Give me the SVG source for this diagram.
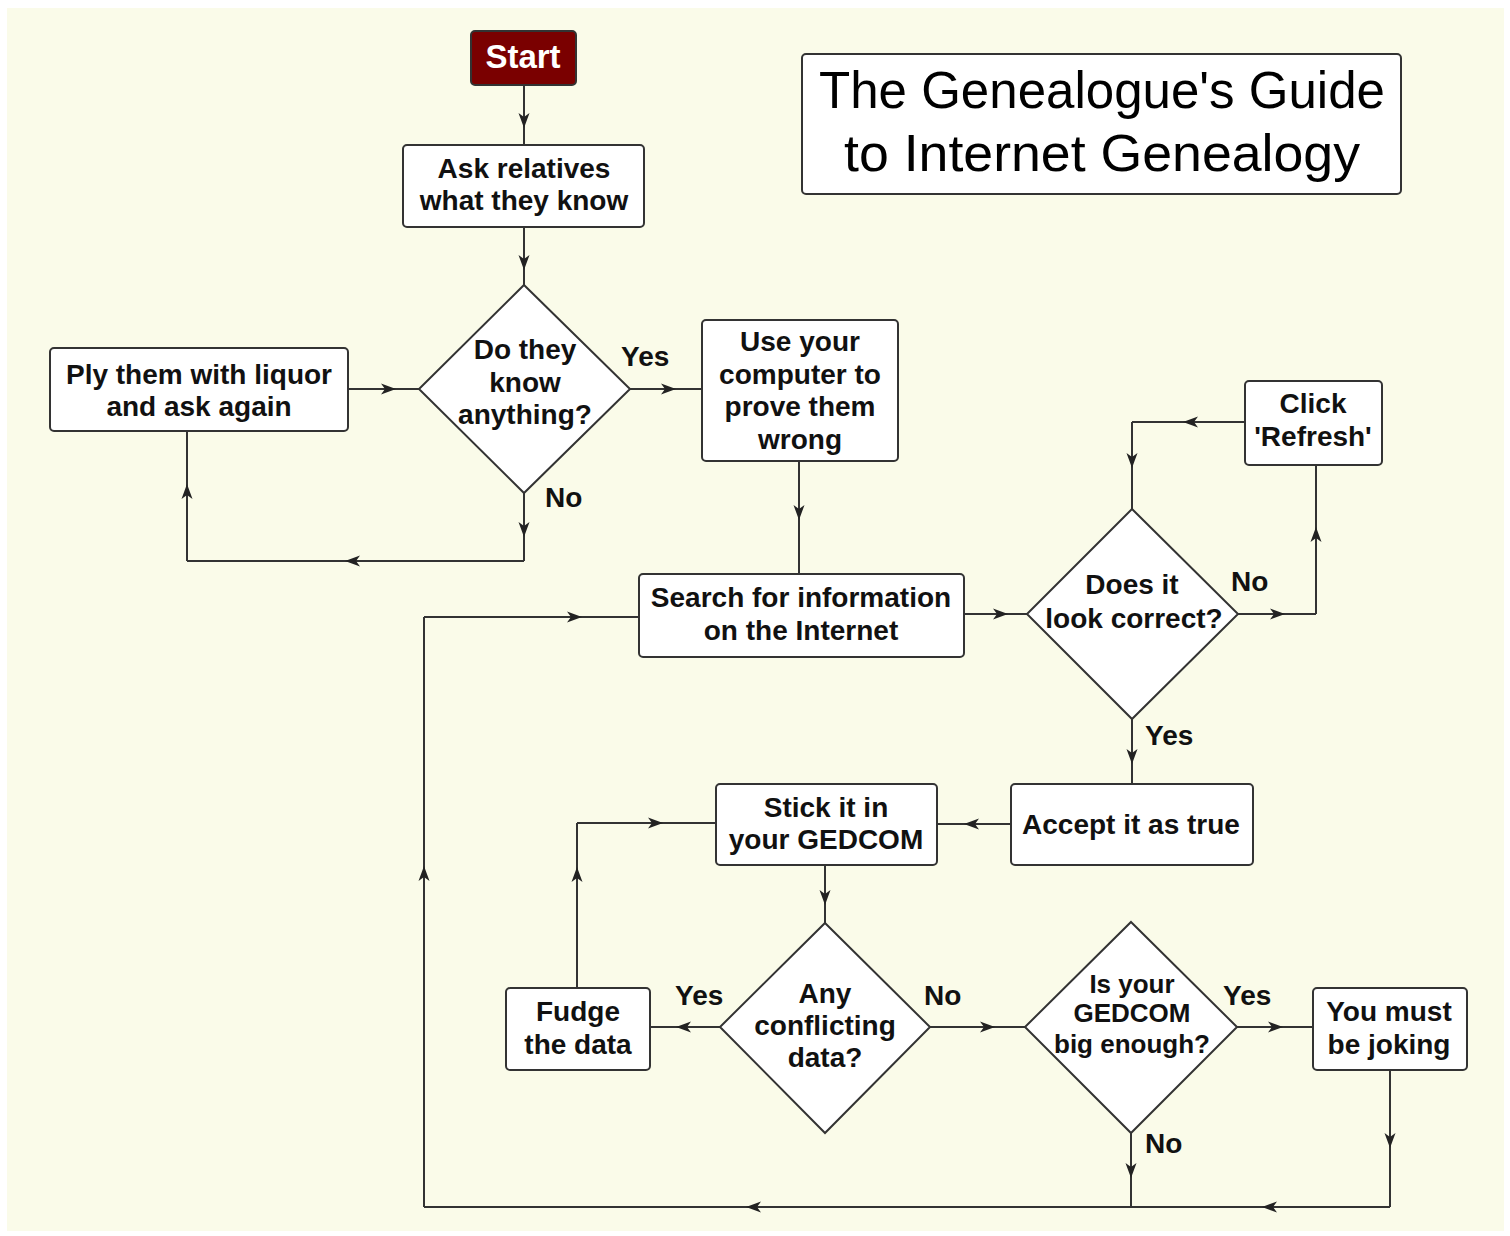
<svg xmlns="http://www.w3.org/2000/svg" width="1510" height="1236" viewBox="0 0 1510 1236">
<defs>
<style>
.node rect, .node polygon { fill:#ffffff; stroke:#333333; stroke-width:2; }
.node text, .lbl { font-family:"Liberation Sans", Arial, sans-serif; font-weight:bold; font-size:28px; fill:#111111; text-anchor:middle; }
.lbl { text-anchor:start; }
.conn path { fill:none; stroke:#333333; stroke-width:2; }
.conn path.a { marker-mid:url(#arr); }
.node text.title { font-family:"Liberation Sans", "DejaVu Sans", sans-serif; font-weight:normal; font-size:52px; fill:#000000; text-anchor:middle; }
</style>
<marker id="arr" viewBox="-15 -6 17 12" markerWidth="17" markerHeight="12" refX="0" refY="0" orient="auto" markerUnits="userSpaceOnUse">
<path d="M-15,-5.5 L0,0 L-15,5.5 L-11,0 z" fill="#222222"/>
</marker>
</defs>
<rect x="0" y="0" width="1510" height="1236" fill="#ffffff"/>
<rect x="7" y="8" width="1497" height="1223" fill="#fafbe9"/>

<g id="connectors" class="conn">
<path class="a" d="M524,85 L524,128 L524,145"/>
<path class="a" d="M524,227 L524,270 L524,285"/>
<path class="a" d="M348,389 L396,389 L419,389"/>
<path class="a" d="M630,389 L676,389 L702,389"/>
<path class="a" d="M524,493 L524,537 L524,561"/>
<path class="a" d="M524,561 L345,561 L187,561"/>
<path class="a" d="M187,561 L187,484 L187,431"/>
<path class="a" d="M799,461 L799,520 L799,574"/>
<path class="a" d="M964,614 L1008,614 L1027,614"/>
<path class="a" d="M1238,614 L1285,614 L1316,614"/>
<path class="a" d="M1316,614 L1316,527 L1316,465"/>
<path class="a" d="M1245,422 L1183,422 L1132,422"/>
<path class="a" d="M1132,422 L1132,468 L1132,509"/>
<path class="a" d="M1132,719 L1132,764 L1132,784"/>
<path class="a" d="M1011,824 L964,824 L937,824"/>
<path class="a" d="M825,865 L825,905 L825,923"/>
<path class="a" d="M720,1027 L676,1027 L650,1027"/>
<path class="a" d="M577,988 L577,867 L577,823"/>
<path class="a" d="M577,823 L663,823 L716,823"/>
<path class="a" d="M930,1027 L995,1027 L1025,1027"/>
<path class="a" d="M1237,1027 L1283,1027 L1313,1027"/>
<path class="a" d="M1390,1070 L1390,1148 L1390,1207"/>
<path class="a" d="M1390,1207 L1262,1207 L1131,1207"/>
<path class="a" d="M1131,1133 L1131,1178 L1131,1207"/>
<path class="a" d="M1131,1207 L746,1207 L424,1207"/>
<path class="a" d="M424,1207 L424,866 L424,617"/>
<path class="a" d="M424,617 L582,617 L639,617"/>
</g>

<g id="labels">
<text class="lbl" x="621" y="366">Yes</text>
<text class="lbl" x="545" y="507">No</text>
<text class="lbl" x="1231" y="591">No</text>
<text class="lbl" x="1145" y="745">Yes</text>
<text class="lbl" x="675" y="1005">Yes</text>
<text class="lbl" x="924" y="1005">No</text>
<text class="lbl" x="1223" y="1005">Yes</text>
<text class="lbl" x="1145" y="1153">No</text>
</g>

<g id="title" class="node">
<rect x="802" y="54" width="599" height="140" rx="4"/>
<text class="title" x="1102" y="108" textLength="566" lengthAdjust="spacingAndGlyphs">The Genealogue's Guide</text>
<text class="title" x="1102" y="171" textLength="516" lengthAdjust="spacingAndGlyphs">to Internet Genealogy</text>
</g>

<g id="start" class="node">
<rect x="471" y="31" width="105" height="54" rx="4" style="fill:#7a0000"/>
<text x="523" y="68" style="fill:#ffffff;font-size:33px">Start</text>
</g>

<g id="ask" class="node">
<rect x="403" y="145" width="241" height="82" rx="4"/>
<text x="524" y="178">Ask relatives</text>
<text x="524" y="210">what they know</text>
</g>

<g id="know" class="node">
<polygon points="524,285 630,389 524,493 419,389"/>
<text x="525" y="359">Do they</text>
<text x="525" y="392">know</text>
<text x="525" y="424">anything?</text>
</g>

<g id="ply" class="node">
<rect x="50" y="348" width="298" height="83" rx="4"/>
<text x="199" y="384">Ply them with liquor</text>
<text x="199" y="416">and ask again</text>
</g>

<g id="use" class="node">
<rect x="702" y="320" width="196" height="141" rx="4"/>
<text x="800" y="351">Use your</text>
<text x="800" y="384">computer to</text>
<text x="800" y="416">prove them</text>
<text x="800" y="449">wrong</text>
</g>

<g id="search" class="node">
<rect x="639" y="574" width="325" height="83" rx="4"/>
<text x="801" y="607">Search for information</text>
<text x="801" y="640">on the Internet</text>
</g>

<g id="correct" class="node">
<polygon points="1132,509 1238,614 1132,719 1027,614"/>
<text x="1132" y="594">Does it</text>
<text x="1134" y="628">look correct?</text>
</g>

<g id="refresh" class="node">
<rect x="1245" y="381" width="137" height="84" rx="4"/>
<text x="1313" y="413">Click</text>
<text x="1313" y="446">'Refresh'</text>
</g>

<g id="accept" class="node">
<rect x="1011" y="784" width="242" height="81" rx="4"/>
<text x="1131" y="834">Accept it as true</text>
</g>

<g id="stick" class="node">
<rect x="716" y="784" width="221" height="81" rx="4"/>
<text x="826" y="817">Stick it in</text>
<text x="826" y="849">your GEDCOM</text>
</g>

<g id="conflict" class="node">
<polygon points="825,923 930,1027 825,1133 720,1027"/>
<text x="825" y="1003">Any</text>
<text x="825" y="1035">conflicting</text>
<text x="825" y="1067">data?</text>
</g>

<g id="fudge" class="node">
<rect x="506" y="988" width="144" height="82" rx="4"/>
<text x="578" y="1021">Fudge</text>
<text x="578" y="1054">the data</text>
</g>

<g id="bigenough" class="node">
<polygon points="1131,922 1237,1027 1131,1133 1025,1027"/>
<text x="1132" y="993" style="font-size:26px">Is your</text>
<text x="1132" y="1022" style="font-size:26px">GEDCOM</text>
<text x="1132" y="1053" style="font-size:26px">big enough?</text>
</g>

<g id="joking" class="node">
<rect x="1313" y="988" width="154" height="82" rx="4"/>
<text x="1389" y="1021">You must</text>
<text x="1389" y="1054">be joking</text>
</g>
</svg>
